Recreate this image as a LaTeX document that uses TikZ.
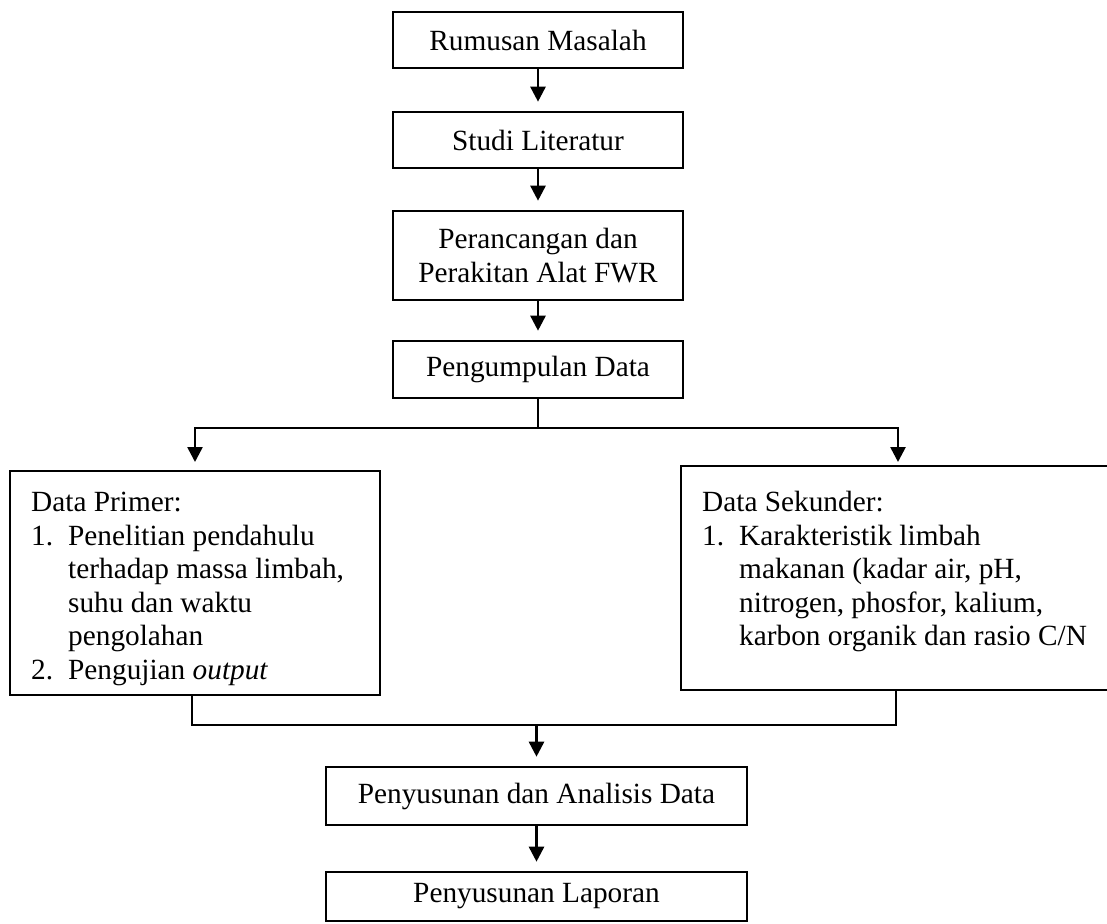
\documentclass[tikz,border=0pt]{standalone}
\usepackage{fontspec}
\setmainfont{Liberation Serif}
\usetikzlibrary{arrows.meta}
\begin{document}
\begin{tikzpicture}[x=1pt,y=-1pt,
  every node/.style={font=\fontsize{29.3}{33.5}\selectfont},
  box/.style={draw, line width=2.6pt, inner sep=0pt, align=center},
  conn/.style={line width=2.6pt},
  arr/.style={line width=2.6pt, -{Triangle[width=15pt,length=15pt]}, shorten >=9pt},
  txt/.style={inner sep=0pt, align=left, anchor=north west}]
\useasboundingbox (0,0) rectangle (1107,923);
\fill[white] (0,0) rectangle (1107,923);

\node[box, minimum width=290pt, minimum height=56pt] (b1) at (538,40) {Rumusan Masalah};
\node[box, minimum width=290pt, minimum height=56pt] (b2) at (538,140) {Studi Literatur};
\node[box, minimum width=290pt, minimum height=89pt] (b3) at (538,255.5) {Perancangan dan\\Perakitan Alat FWR};
\node[box, minimum width=290pt, minimum height=57pt] (b4) at (538,369.5) {Pengumpulan Data};

\node[box, minimum width=370pt, minimum height=224pt] (primer) at (195,583) {};
\node[txt] (primertext) at (31,492) {Data Primer:\\
\makebox[37pt][l]{1.}Penelitian pendahulu\\
\hspace*{37pt}terhadap massa limbah,\\
\hspace*{37pt}suhu dan waktu\\
\hspace*{37pt}pengolahan\\
\makebox[37pt][l]{2.}Pengujian \textit{output}};

\node[box, minimum width=429pt, minimum height=224pt] (sekunder) at (895.5,578) {};
\node[txt] (sekundertext) at (702,491) {Data Sekunder:\\
\makebox[37pt][l]{1.}Karakteristik limbah\\
\hspace*{37pt}makanan (kadar air, pH,\\
\hspace*{37pt}nitrogen, phosfor, kalium,\\
\hspace*{37pt}karbon organik dan rasio C/N};

\node[box, minimum width=421pt, minimum height=58pt] (b5) at (536.5,796) {Penyusunan dan Analisis Data};
\node[box, minimum width=421pt, minimum height=49pt] (b6) at (536.5,896.5) {Penyusunan Laporan};

\draw[arr] (b1.south) -- (b2.north);
\draw[arr] (b2.south) -- (b3.north);
\draw[arr] (b3.south) -- (b4.north);

\coordinate (split) at (538,428);
\coordinate (tl) at (195,471);
\coordinate (tr) at (898,467);
\draw[conn] (b4.south) -- (split);
\draw[arr, shorten >=9pt] (split) -| (tl);
\draw[arr, shorten >=5pt] (split) -| (tr);

\coordinate (ml) at (192,725);
\coordinate (mr) at (896,725);
\draw[conn] (primer.south -| ml) -- (ml) -- (mr) -- (sekunder.south -| mr);
\draw[arr] (b5.north |- ml) -- (b5.north);
\draw[arr] (b5.south) -- (b6.north);
\end{tikzpicture}
\end{document}
